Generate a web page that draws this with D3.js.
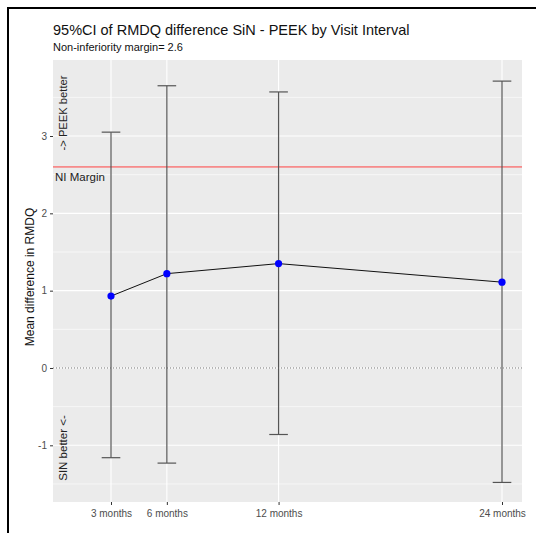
<!DOCTYPE html>
<html>
<head>
<meta charset="utf-8">
<script src="https://cdn.jsdelivr.net/npm/d3@7"></script>
<style>
  body { margin: 0; background: #fff; }
  svg { display: block; font-family: "Liberation Sans", Arial, sans-serif; }
</style>
</head>
<body>
<div id="chart"></div>
<script>
// visit intervals (months) and their labels
var months = [3, 6, 12, 24];
var monthLabels = ["3 months", "6 months", "12 months", "24 months"];
// mean difference and 95% CI
var meanDiff = [0.93, 1.22, 1.35, 1.11];
var ciLower = [-1.16, -1.23, -0.86, -1.48];
var ciUpper = [3.05, 3.65, 3.57, 3.71];
var yTicks = [-1, 0, 1, 2, 3];
var yMinor = [-1.5, -0.5, 0.5, 1.5, 2.5, 3.5];
var niMargin = 2.6;

var width = 536, height = 533;
var panel = { left: 53, right: 522, top: 60, bottom: 502 };

var svg = d3.select("#chart").append("svg")
  .attr("width", width)
  .attr("height", height);

// outer frame (only top and left edges are visible in the picture)
svg.append("path")
  .attr("d", "M8," + height + "V8H" + width)
  .attr("fill", "none")
  .attr("stroke", "#000")
  .attr("stroke-width", 2);

var x = d3.scaleLinear()
  .domain([-0.115, 25.074])
  .range([panel.left, panel.right]);

var y = d3.scaleLinear()
  .domain([-1.733, 3.983])
  .range([panel.bottom, panel.top]);

// panel background
svg.append("rect")
  .attr("x", panel.left)
  .attr("y", panel.top)
  .attr("width", panel.right - panel.left)
  .attr("height", panel.bottom - panel.top)
  .attr("fill", "#ebebeb");

var grid = svg.append("g");

grid.selectAll("line.minor")
  .data(yMinor)
  .enter().append("line")
    .attr("class", "minor")
    .attr("x1", panel.left).attr("x2", panel.right)
    .attr("y1", function(d) { return y(d); })
    .attr("y2", function(d) { return y(d); })
    .attr("stroke", "#fff")
    .attr("stroke-width", 0.6);

grid.selectAll("line.majorY")
  .data(yTicks)
  .enter().append("line")
    .attr("class", "majorY")
    .attr("x1", panel.left).attr("x2", panel.right)
    .attr("y1", function(d) { return y(d); })
    .attr("y2", function(d) { return y(d); })
    .attr("stroke", "#fff")
    .attr("stroke-width", 1.1);

grid.selectAll("line.majorX")
  .data(months)
  .enter().append("line")
    .attr("class", "majorX")
    .attr("y1", panel.top).attr("y2", panel.bottom)
    .attr("x1", function(d) { return x(d); })
    .attr("x2", function(d) { return x(d); })
    .attr("stroke", "#fff")
    .attr("stroke-width", 1.1);

// zero reference (dotted) and NI margin (red)
svg.append("line")
  .attr("x1", panel.left).attr("x2", panel.right)
  .attr("y1", y(0)).attr("y2", y(0))
  .attr("stroke", "#777")
  .attr("stroke-width", 1)
  .attr("stroke-dasharray", "1,2");

svg.append("line")
  .attr("x1", panel.left).attr("x2", panel.right)
  .attr("y1", y(niMargin)).attr("y2", y(niMargin))
  .attr("stroke", "#ff4040")
  .attr("stroke-width", 1);

svg.append("text")
  .attr("x", panel.left + 2)
  .attr("y", y(niMargin) + 14)
  .attr("font-size", 11.5)
  .attr("fill", "#222")
  .text("NI Margin");

// rotated side notes
svg.append("text")
  .attr("transform", "translate(" + (panel.left + 14) + "," + 113 + ") rotate(-90)")
  .attr("text-anchor", "middle")
  .attr("font-size", 11.2)
  .attr("fill", "#222")
  .text("-> PEEK better");

svg.append("text")
  .attr("transform", "translate(" + (panel.left + 14) + "," + 448 + ") rotate(-90)")
  .attr("text-anchor", "middle")
  .attr("font-size", 11.5)
  .attr("fill", "#222")
  .text("SIN better <-");

// error bars
var capHalf = 0.5;
var bars = svg.append("g")
  .attr("stroke", "#555")
  .attr("stroke-width", 1.2)
  .attr("fill", "none");

months.forEach(function(m, i) {
  bars.append("line")
    .attr("x1", x(m)).attr("x2", x(m))
    .attr("y1", y(ciLower[i])).attr("y2", y(ciUpper[i]));
  bars.append("line")
    .attr("x1", x(m - capHalf)).attr("x2", x(m + capHalf))
    .attr("y1", y(ciUpper[i])).attr("y2", y(ciUpper[i]));
  bars.append("line")
    .attr("x1", x(m - capHalf)).attr("x2", x(m + capHalf))
    .attr("y1", y(ciLower[i])).attr("y2", y(ciLower[i]));
});

// mean line and points
var line = d3.line()
  .x(function(d, i) { return x(months[i]); })
  .y(function(d) { return y(d); });

svg.append("path")
  .datum(meanDiff)
  .attr("d", line)
  .attr("fill", "none")
  .attr("stroke", "#111")
  .attr("stroke-width", 1);

svg.selectAll("circle.pt")
  .data(meanDiff)
  .enter().append("circle")
    .attr("class", "pt")
    .attr("cx", function(d, i) { return x(months[i]); })
    .attr("cy", function(d) { return y(d); })
    .attr("r", 3.6)
    .attr("fill", "#0000ff");

// axes
var yAxis = d3.axisLeft(y)
  .tickValues(yTicks)
  .tickSize(3)
  .tickPadding(3)
  .tickFormat(function(d) { return d < 0 ? "-" + Math.abs(d) : d; });

var yG = svg.append("g")
  .attr("transform", "translate(" + panel.left + ",0)")
  .call(yAxis);

var xAxis = d3.axisBottom(x)
  .tickValues(months)
  .tickSize(3)
  .tickPadding(5)
  .tickFormat(function(d, i) { return monthLabels[i]; });

var xG = svg.append("g")
  .attr("transform", "translate(0," + panel.bottom + ")")
  .call(xAxis);

[yG, xG].forEach(function(g) {
  g.select(".domain").remove();
  g.selectAll(".tick line").attr("stroke", "#333");
  g.selectAll(".tick text")
    .attr("fill", "#4d4d4d")
    .attr("font-size", 10)
    .attr("font-family", "Liberation Sans, Arial, sans-serif");
});

// axis title
svg.append("text")
  .attr("transform", "translate(" + 34 + "," + 277 + ") rotate(-90)")
  .attr("text-anchor", "middle")
  .attr("font-size", 12)
  .attr("fill", "#111")
  .text("Mean difference in RMDQ");

// titles
svg.append("text")
  .attr("x", panel.left)
  .attr("y", 35)
  .attr("font-size", 14.5)
  .attr("fill", "#111")
  .text("95%CI of RMDQ difference SiN - PEEK by Visit Interval");

svg.append("text")
  .attr("x", panel.left)
  .attr("y", 51)
  .attr("font-size", 11)
  .attr("fill", "#111")
  .text("Non-inferiority margin= 2.6");
</script>
</body>
</html>
